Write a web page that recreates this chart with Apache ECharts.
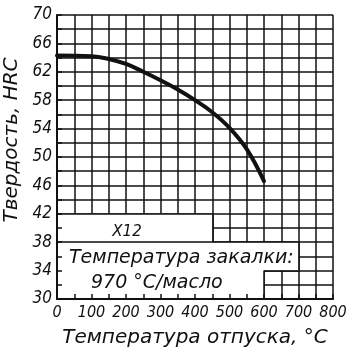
<!DOCTYPE html>
<html lang="ru">
<head>
<meta charset="UTF-8">
<title>Х12 – отпуск</title>
<style>
  html, body { margin: 0; padding: 0; background: #fff; }
  #chart { width: 362px; height: 353px; }
</style>
</head>
<body>
<div id="chart"></div>
<script src="https://cdn.jsdelivr.net/npm/echarts@6/dist/echarts.min.js"></script>
<script>
// hardness after tempering
const temperatures = [0, 100, 150, 200, 250, 300, 350, 400, 450, 500, 550, 600];
const hardness = [64.3, 64.2, 63.8, 63.1, 62.0, 60.8, 59.5, 58.0, 56.3, 54.1, 51.1, 46.6];

// tick labels
const xLabels = [0, 100, 200, 300, 400, 500, 600, 700, 800];
const yLabels = [30, 34, 38, 42, 46, 50, 54, 58, 62, 66, 70];

// white note panels in the lower left corner (data units) and their outlines
// (panels overlap a little so no seam shows between them)
const noteBoxes = [
  [[0, 42], [450, 38]],
  [[0, 38], [700, 34]],
  [[0, 34.6], [600, 30]]
];
const notePaths = [
  [[0, 42], [450, 42], [450, 38]],
  [[0, 38], [700, 38], [700, 34], [600, 34], [600, 30]]
];

const ink = '#111';
const font = 'DejaVu Sans Condensed, DejaVu Sans, sans-serif';
const gridBox = { left: 57, right: 29, top: 15, bottom: 54 };

var chart = echarts.init(document.getElementById('chart'), null, { renderer: 'canvas' });

// outline segments for markLine
const outlineSegs = [];
notePaths.forEach(function (path) {
  for (let i = 1; i < path.length; i++) {
    outlineSegs.push([{ coord: path[i - 1] }, { coord: path[i] }]);
  }
});

var option = {
  animation: false,
  backgroundColor: '#fff',
  grid: [Object.assign({}, gridBox), Object.assign({}, gridBox)],
  xAxis: [
    {
      gridIndex: 0, type: 'value', min: 0, max: 800, interval: 50,
      axisLine: { show: false }, axisTick: { show: false }, axisLabel: { show: false },
      splitLine: { show: true, lineStyle: { color: ink, width: 1.5 } }
    },
    {
      gridIndex: 1, type: 'value', min: 0, max: 800, interval: 50, z: 10,
      axisLine: { show: true, onZero: false, lineStyle: { color: ink, width: 2 } },
      axisTick: { show: true, inside: true, length: 5, lineStyle: { color: ink, width: 1.5 } },
      axisLabel: {
        color: ink, fontFamily: font, fontStyle: 'italic', fontSize: 16, margin: 6,
        formatter: function (v) { return xLabels.indexOf(v) >= 0 ? String(v) : ''; }
      },
      splitLine: { show: false }
    }
  ],
  yAxis: [
    {
      gridIndex: 0, type: 'value', min: 30, max: 70, interval: 2,
      axisLine: { show: false }, axisTick: { show: false }, axisLabel: { show: false },
      splitLine: { show: true, lineStyle: { color: ink, width: 1.5 } }
    },
    {
      gridIndex: 1, type: 'value', min: 30, max: 70, interval: 2, z: 10,
      axisLine: { show: true, onZero: false, lineStyle: { color: ink, width: 2 } },
      axisTick: { show: true, inside: true, length: 5, lineStyle: { color: ink, width: 1.5 } },
      axisLabel: {
        color: ink, fontFamily: font, fontStyle: 'italic', fontSize: 17, margin: 5,
        formatter: function (v) { return yLabels.indexOf(v) >= 0 ? String(v) : ''; }
      },
      splitLine: { show: false }
    }
  ],
  series: [
    {
      name: 'panels', type: 'line', xAxisIndex: 0, yAxisIndex: 0, data: [], z: 3, silent: true,
      markArea: {
        silent: true,
        itemStyle: { color: '#fff', borderWidth: 0 },
        label: { show: false },
        data: noteBoxes.map(function (b) { return [{ coord: b[0] }, { coord: b[1] }]; })
      }
    },
    {
      name: 'outline', type: 'line', xAxisIndex: 0, yAxisIndex: 0, data: [], z: 4, silent: true,
      markLine: {
        silent: true, symbol: ['none', 'none'],
        lineStyle: { color: ink, width: 1.5, type: 'solid' },
        label: { show: false },
        data: outlineSegs
      }
    },
    {
      name: 'HRC', type: 'line', xAxisIndex: 0, yAxisIndex: 0, z: 5,
      smooth: 0.4, showSymbol: false,
      lineStyle: { color: ink, width: 4, cap: 'round' },
      data: temperatures.map(function (t, i) { return [t, hardness[i]]; })
    }
  ],
  graphic: [
    {
      type: 'text', x: 12, y: 140, rotation: Math.PI / 2, z: 20,
      style: { text: 'Твердость, HRC', fill: ink, font: 'italic 20px DejaVu Sans', align: 'center', verticalAlign: 'middle' }
    },
    {
      type: 'text', x: 195, y: 338, z: 20,
      style: { text: 'Температура отпуска, °C', fill: ink, font: 'italic 20px DejaVu Sans', align: 'center', verticalAlign: 'middle' }
    },
    {
      type: 'text', x: 127, y: 232, z: 20,
      style: { text: 'Х12', fill: ink, font: 'italic 15px DejaVu Sans', align: 'center', verticalAlign: 'middle' }
    },
    {
      type: 'text', x: 69, y: 258, z: 20,
      style: { text: 'Температура закалки:', fill: ink, font: 'italic 19px DejaVu Sans', align: 'left', verticalAlign: 'middle' }
    },
    {
      type: 'text', x: 91, y: 283, z: 20,
      style: { text: '970 °C/масло', fill: ink, font: 'italic 19px DejaVu Sans', align: 'left', verticalAlign: 'middle' }
    }
  ]
};

chart.setOption(option);
window.addEventListener('resize', chart.resize);
</script>
</body>
</html>
